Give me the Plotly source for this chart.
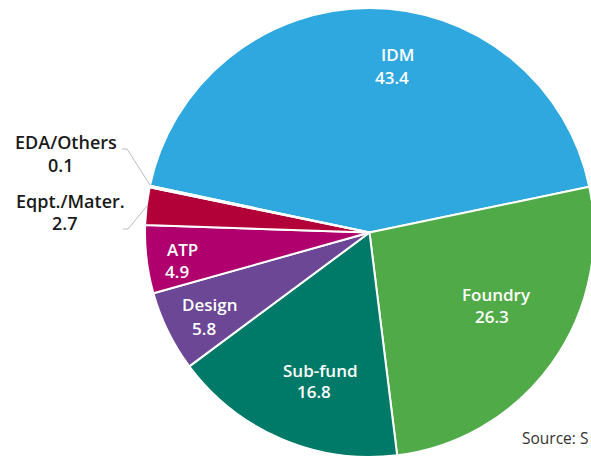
import plotly.graph_objects as go

# ---- data ----
categories = ["IDM", "Foundry", "Sub-fund", "Design", "ATP", "Eqpt./Mater.", "EDA/Others"]
values = [43.4, 26.3, 16.8, 5.8, 4.9, 2.7, 0.1]
colors = ["#2fa8e0", "#51aa48", "#007a68", "#6b4796", "#b0006e", "#b20039", "#9a9a9a"]

# figure is a bit larger than the window; the page clips it like the reference
W, H = 600, 466


def px(x):
    return x / W


def py(y):
    return 1 - y / H


fig = go.Figure()
fig.add_trace(go.Pie(
    labels=categories,
    values=values,
    sort=False,
    direction="clockwise",
    rotation=282,
    marker=dict(colors=colors, line=dict(color="white", width=2)),
    textinfo="none",
    hoverinfo="label+value",
    domain=dict(x=[px(145), px(594)], y=[py(457), py(8)]),
    showlegend=False,
))

# label positions (pixel centers of name line and value line)
label_pos = {
    "IDM": ((397, 54), (392, 77)),
    "Foundry": ((496, 294), (492, 316)),
    "Sub-fund": ((320, 370), (314, 391)),
    "Design": ((210, 304), (204, 328)),
    "ATP": ((182, 249), (177, 271)),
    "Eqpt./Mater.": ((70, 201), (65, 223)),
    "EDA/Others": ((66, 142), (61, 165)),
}
outside = {"Eqpt./Mater.", "EDA/Others"}

font_family = "Open Sans"
for cat, val in zip(categories, values):
    (nx, ny), (vx, vy) = label_pos[cat]
    col = "#1a1a1a" if cat in outside else "white"
    size = 18 if cat in outside else 17
    for txt, x, y in ((cat, nx, ny), (f"{val}", vx, vy)):
        fig.add_annotation(
            x=px(x), y=py(y), xref="paper", yref="paper",
            text=txt, showarrow=False,
            xanchor="center", yanchor="middle",
            font=dict(family=font_family, size=size, color=col, weight=600),
        )

# leader lines for outside labels
fig.add_shape(type="path", xref="paper", yref="paper",
              path=f"M {px(122)} {py(149)} L {px(127)} {py(149)} L {px(150)} {py(185)}",
              line=dict(color="#bdbdbd", width=1))
fig.add_shape(type="path", xref="paper", yref="paper",
              path=f"M {px(123)} {py(229)} L {px(128)} {py(229)} L {px(147)} {py(206)}",
              line=dict(color="#bdbdbd", width=1))

fig.add_annotation(
    x=px(520), y=py(438), xref="paper", yref="paper",
    text="Source: S", showarrow=False, xanchor="left", yanchor="middle",
    font=dict(family=font_family, size=15.5, color="#333333"),
)

fig.update_layout(
    width=W, height=H,
    margin=dict(l=0, r=0, t=0, b=0),
    paper_bgcolor="white", plot_bgcolor="white",
)

fig.write_html(
    "out.html",
    config={"displayModeBar": False},
    post_script="document.body.style.margin='0px';document.body.style.overflow='hidden';",
)
